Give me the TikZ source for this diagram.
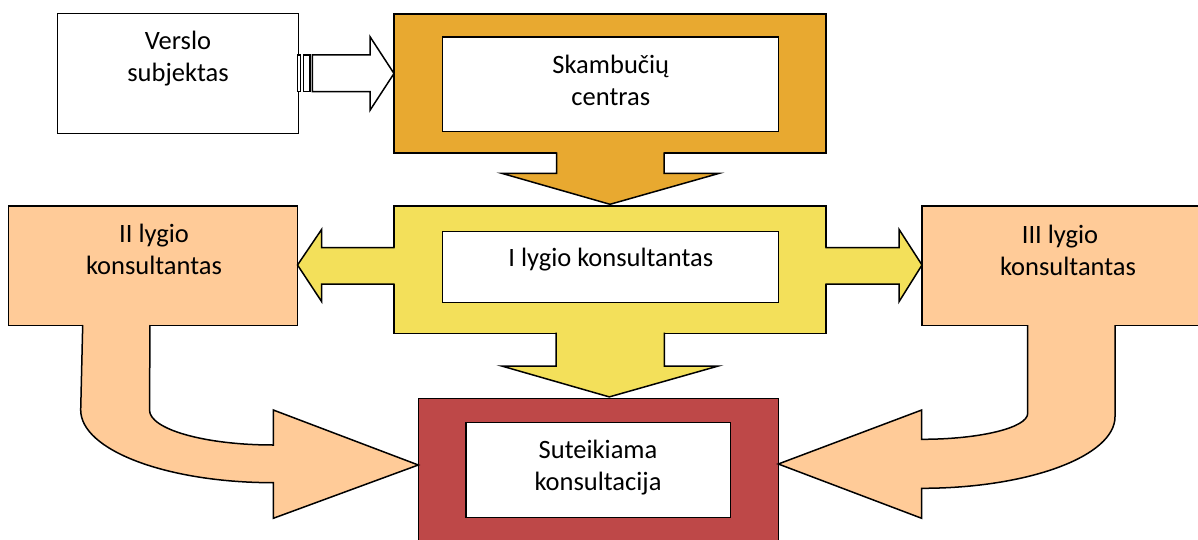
\documentclass[tikz,border=0pt]{standalone}
\usepackage{fontspec}
\setmainfont{Carlito}
\definecolor{corange}{HTML}{E8A930}
\definecolor{cyellow}{HTML}{F3E05A}
\definecolor{cpeach}{HTML}{FFCB98}
\definecolor{cred}{HTML}{BE4848}
\begin{document}
\begin{tikzpicture}[x=1pt,y=-1pt,line width=1.5pt,line join=miter,
  box/.style={draw=black,rectangle,inner sep=0pt,outer sep=0pt},
  lbl/.style={font=\fontsize{26.5}{32}\selectfont,align=center,inner sep=0pt,anchor=base}]
\useasboundingbox (0,0) rectangle (1198,540);
% boxes
\node[box,fill=white,minimum width=241pt,minimum height=120pt] (vs) at (177.8,73.5) {};
\node[box,fill=corange,minimum width=432pt,minimum height=139pt] (sc) at (610,83.5) {};
\node[box,fill=white,minimum width=336pt,minimum height=94.5pt] (sci) at (610.5,84.5) {};
\node[box,fill=cyellow,minimum width=432pt,minimum height=127.5pt] (l1) at (610,269.5) {};
\node[box,fill=white,minimum width=336pt,minimum height=71pt] (l1i) at (610.5,267.2) {};
\node[box,fill=cpeach,minimum width=289pt,minimum height=119.5pt] (l2) at (153,265.5) {};
\node[box,fill=cpeach,minimum width=292pt,minimum height=119.5pt] (l3) at (1068,265.5) {};
\node[box,fill=cred,minimum width=360pt,minimum height=150pt] (sk) at (598.3,473.3) {};
\node[box,fill=white,minimum width=264.5pt,minimum height=95pt] (ski) at (598.3,470.2) {};
% texts (base anchor = baseline of last line)
\node[lbl] (vs-t) at (178,82) {Verslo\\subjektas};
\node[lbl] (sc-t) at (610.8,106) {Skambučių\\centras};
\node[lbl] (l1-t) at (610.8,266.7) {I lygio konsultantas};
\node[lbl] (l2-t) at (154,274) {II lygio\\konsultantas};
\node[lbl] (l3-t) at (1068,275) {III lygio\hspace*{16pt}\\konsultantas};
\node[lbl] (sk-t) at (598,490) {Suteikiama\\konsultacija};
% striped arrow Verslo -> Skambuciu
\draw[fill=white] (297.3,55) rectangle (300.7,91.7);
\draw[fill=white] (303.3,55) rectangle (310,91.7);
\draw[fill=white] (312.3,55) -- (370,55) -- (370,36.7) -- (sc.west |- 0,73.5) -- (370,110.3) -- (370,91.7) -- (312.3,91.7) -- cycle;
% orange down arrow
\fill[corange] (556.7,152.2) -- (556.7,173.3) -- (501.7,173.3) -- (610,204.3) -- (719.3,173.3) -- (664,173.3) -- (664,152.2) -- cycle;
\draw (556.7,152.3) -- (556.7,173.3) -- (501.7,173.3) -- (610,204.3) -- (719.3,173.3) -- (664,173.3) -- (664,152.3);
% yellow down arrow
\fill[cyellow] (556,332.4) -- (556,366) -- (501.7,366) -- (609.3,396.9) -- (718.3,366) -- (664.3,366) -- (664.3,332.4) -- cycle;
\draw (556,332.5) -- (556,366) -- (501.7,366) -- (609.3,396.9) -- (718.3,366) -- (664.3,366) -- (664.3,332.5);
% yellow left arrow
\fill[cyellow] (394.9,247.7) -- (321.7,247.7) -- (321.7,229.3) -- (l2.east |- 0,265) -- (321.7,301.7) -- (321.7,284.2) -- (394.9,284.2) -- cycle;
\draw (394.7,247.7) -- (321.7,247.7) -- (321.7,229.3) -- (l2.east |- 0,265) -- (321.7,301.7) -- (321.7,284.2) -- (394.7,284.2);
% yellow right arrow
\fill[cyellow] (825.1,247.7) -- (899,247.7) -- (899,229.3) -- (l3.west |- 0,265) -- (899,301.7) -- (899,284.2) -- (825.1,284.2) -- cycle;
\draw (825.3,247.7) -- (899,247.7) -- (899,229.3) -- (l3.west |- 0,265) -- (899,301.7) -- (899,284.2) -- (825.3,284.2);
% left curved arrow
\fill[cpeach] (82.7,324.8) -- (80.7,410) .. controls (80.7,450.1) and (166.8,482.7) .. (273.3,482.7) -- (273.3,518.3) -- (sk.west |- 0,465) -- (273.3,410) -- (273.3,445) .. controls (204.8,445) and (149.5,429.3) .. (149.5,410) -- (150,324.8) -- cycle;
\draw (82.7,325) -- (80.7,410) .. controls (80.7,450.1) and (166.8,482.7) .. (273.3,482.7) -- (273.3,518.3) -- (sk.west |- 0,465) -- (273.3,410) -- (273.3,445) .. controls (204.8,445) and (149.5,429.3) .. (149.5,410) -- (150,325);
% right curved arrow
\fill[cpeach] (1027.7,324.8) -- (1027.7,413.3) .. controls (1027.7,427.7) and (980.2,439.3) .. (921.7,439.3) -- (921.7,410) -- (sk.east |- 0,464) -- (921.7,518.3) -- (921.7,488.3) .. controls (1028.4,488.3) and (1115,456.2) .. (1115,416.7) -- (1115,324.8) -- cycle;
\draw (1027.7,325) -- (1027.7,413.3) .. controls (1027.7,427.7) and (980.2,439.3) .. (921.7,439.3) -- (921.7,410) -- (sk.east |- 0,464) -- (921.7,518.3) -- (921.7,488.3) .. controls (1028.4,488.3) and (1115,456.2) .. (1115,416.7) -- (1115,325);
\end{tikzpicture}
\end{document}
